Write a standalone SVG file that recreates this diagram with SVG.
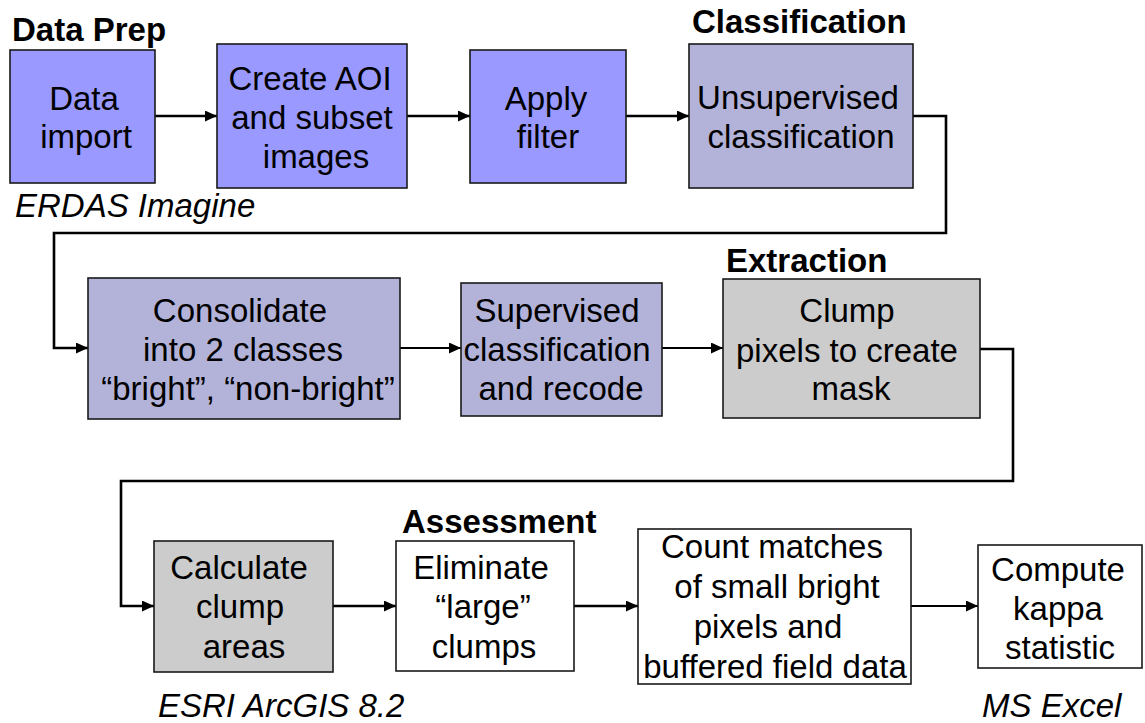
<svg xmlns="http://www.w3.org/2000/svg" width="1145" height="723" viewBox="0 0 1145 723">
<style>
  .box { stroke: #1a1a1a; stroke-width: 1.6; }
  .p1 { fill: #9999FF; }
  .p2 { fill: #B3B3D9; }
  .g { fill: #CCCCCC; }
  .w { fill: #FFFFFF; }
  .t { font-family: "Liberation Sans", Arial, sans-serif; font-size: 33px; fill: #000; text-anchor: middle; }
  .h { font-family: "Liberation Sans", Arial, sans-serif; font-size: 33px; font-weight: bold; fill: #000; }
  .i { font-family: "Liberation Sans", Arial, sans-serif; font-size: 33px; font-style: italic; fill: #000; }
  .c { fill: none; stroke: #000; stroke-width: 2.6; }
  .c2 { fill: none; stroke: #000; stroke-width: 2; }
</style>
<defs>
  <marker id="ah" markerUnits="userSpaceOnUse" markerWidth="13" markerHeight="11" refX="12" refY="5.5" orient="auto">
    <path d="M0,0 L12,5.5 L0,11 z" fill="#000"/>
  </marker>
</defs>
<rect width="1145" height="723" fill="#FFFFFF"/>

<g id="labels">
  <text class="h" x="12" y="41">Data Prep</text>
  <text class="h" x="692" y="33">Classification</text>
  <text class="h" x="726" y="272">Extraction</text>
  <text class="h" x="402" y="533">Assessment</text>
  <text class="i" x="15" y="217">ERDAS Imagine</text>
  <text class="i" x="158" y="717">ESRI ArcGIS 8.2</text>
  <text class="i" x="982" y="717">MS Excel</text>
</g>

<g id="connectors">
  <path class="c" d="M155,116 H217" marker-end="url(#ah)"/>
  <path class="c" d="M407,116 H470" marker-end="url(#ah)"/>
  <path class="c" d="M626,116 H689" marker-end="url(#ah)"/>
  <path class="c" d="M913,116 H946 V233 H54 V348 H88" marker-end="url(#ah)"/>
  <path class="c2" d="M400,348 H461" marker-end="url(#ah)"/>
  <path class="c2" d="M662,348 H723" marker-end="url(#ah)"/>
  <path class="c" d="M980,349 H1013 V481 H121 V606 H154" marker-end="url(#ah)"/>
  <path class="c" d="M333,606 H396" marker-end="url(#ah)"/>
  <path class="c" d="M574,606 H638" marker-end="url(#ah)"/>
  <path class="c2" d="M911,606 H978" marker-end="url(#ah)"/>
</g>

<g id="n1">
  <rect class="box p1" x="10" y="50" width="145" height="133"/>
  <text class="t" x="84" y="110">Data</text>
  <text class="t" x="86" y="148">import</text>
</g>
<g id="n2">
  <rect class="box p1" x="217" y="44" width="190" height="144"/>
  <text class="t" x="310" y="90">Create AOI</text>
  <text class="t" x="312" y="129">and subset</text>
  <text class="t" x="316" y="168">images</text>
</g>
<g id="n3">
  <rect class="box p1" x="470" y="50" width="156" height="133"/>
  <text class="t" x="546" y="110">Apply</text>
  <text class="t" x="548" y="148">filter</text>
</g>
<g id="n4">
  <rect class="box p2" x="689" y="44" width="224" height="144"/>
  <text class="t" x="798" y="109">Unsupervised</text>
  <text class="t" x="801" y="148">classification</text>
</g>
<g id="n5">
  <rect class="box p2" x="88" y="278" width="312" height="141"/>
  <text class="t" x="240" y="322">Consolidate</text>
  <text class="t" x="243" y="361">into 2 classes</text>
  <text class="t" x="248" y="400">“bright”, “non-bright”</text>
</g>
<g id="n6">
  <rect class="box p2" x="461" y="283" width="201" height="133"/>
  <text class="t" x="557" y="322">Supervised</text>
  <text class="t" x="557" y="361">classification</text>
  <text class="t" x="561" y="400">and recode</text>
</g>
<g id="n7">
  <rect class="box g" x="723" y="279" width="257" height="139"/>
  <text class="t" x="847" y="322">Clump</text>
  <text class="t" x="847" y="362">pixels to create</text>
  <text class="t" x="851" y="400">mask</text>
</g>
<g id="n8">
  <rect class="box g" x="154" y="541" width="179" height="131"/>
  <text class="t" x="239" y="579">Calculate</text>
  <text class="t" x="240" y="618">clump</text>
  <text class="t" x="244" y="658">areas</text>
</g>
<g id="n9">
  <rect class="box w" x="396" y="541" width="178" height="130"/>
  <text class="t" x="481" y="579">Eliminate</text>
  <text class="t" x="483" y="618">“large”</text>
  <text class="t" x="484" y="658">clumps</text>
</g>
<g id="n10">
  <rect class="box w" x="638" y="529" width="273" height="155"/>
  <text class="t" x="772" y="558">Count matches</text>
  <text class="t" x="777" y="598">of small bright</text>
  <text class="t" x="768" y="638">pixels and</text>
  <text class="t" x="775" y="678">buffered field data</text>
</g>
<g id="n11">
  <rect class="box w" x="978" y="545" width="164" height="123"/>
  <text class="t" x="1058" y="581">Compute</text>
  <text class="t" x="1058" y="620">kappa</text>
  <text class="t" x="1060" y="659">statistic</text>
</g>
</svg>
